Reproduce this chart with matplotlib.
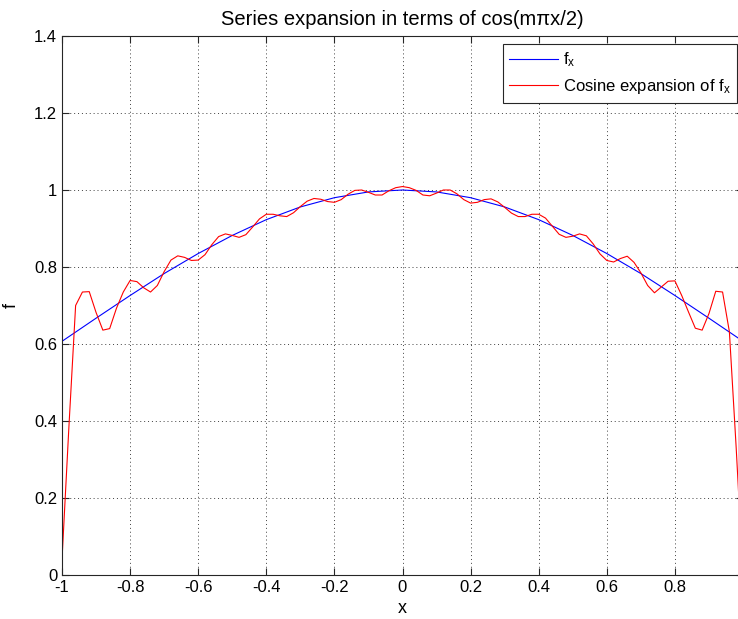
import numpy as np
import matplotlib.pyplot as plt
from matplotlib.ticker import FormatStrFormatter

plt.rcParams['font.family'] = ['Liberation Sans', 'DejaVu Sans']
plt.rcParams['axes.unicode_minus'] = False
plt.rcParams['mathtext.default'] = 'regular'

# exact function, sampled coarsely
x_f = [-1.0, -0.9, -0.8, -0.7, -0.6, -0.5, -0.4, -0.3, -0.2, -0.1, 0.0,
       0.1, 0.2, 0.3, 0.4, 0.5, 0.6, 0.7, 0.8, 0.9, 1.0]
f_x = [0.607, 0.667, 0.726, 0.783, 0.835, 0.882, 0.923, 0.956, 0.980, 0.995, 1.0,
       0.995, 0.980, 0.956, 0.923, 0.882, 0.835, 0.783, 0.726, 0.667, 0.607]

# truncated cosine series, one value per step of 0.02 from -1 to 1
cos_series = [
    0.040, 0.380, 0.700, 0.735, 0.736, 0.682, 0.636, 0.640, 0.693, 0.735,
    0.765, 0.762, 0.746, 0.735, 0.752, 0.788, 0.818, 0.829, 0.825, 0.817,
    0.818, 0.832, 0.858, 0.879, 0.886, 0.882, 0.877, 0.884, 0.904, 0.925,
    0.937, 0.937, 0.933, 0.931, 0.941, 0.957, 0.971, 0.978, 0.976, 0.970,
    0.968, 0.975, 0.989, 0.999, 1.000, 0.994, 0.987, 0.987, 0.998, 1.006,
    1.009,
    1.006, 0.999, 0.987, 0.985, 0.992, 1.000, 1.000, 0.990, 0.975, 0.966,
    0.968, 0.975, 0.977, 0.969, 0.955, 0.940, 0.931, 0.931, 0.937, 0.937,
    0.927, 0.906, 0.885, 0.877, 0.880, 0.886, 0.881, 0.860, 0.834, 0.817,
    0.813, 0.822, 0.828, 0.812, 0.785, 0.752, 0.733, 0.748, 0.763, 0.764,
    0.726, 0.683, 0.641, 0.636, 0.679, 0.737, 0.735, 0.632, 0.330, 0.000,
]
x_s = np.linspace(-1, 1, len(cos_series))

x_ticks = [-1, -0.8, -0.6, -0.4, -0.2, 0, 0.2, 0.4, 0.6, 0.8, 1]
x_labels = ['-1', '-0.8', '-0.6', '-0.4', '-0.2', '0', '0.2', '0.4', '0.6', '0.8', '']
y_ticks = [0, 0.2, 0.4, 0.6, 0.8, 1, 1.2, 1.4]

fig = plt.figure(figsize=(7.38, 6.19), dpi=100)
ax = fig.add_axes([62 / 738, 1 - 575 / 619, 681 / 738, 539 / 619])

ax.plot(x_f, f_x, color='blue', lw=0.8, label=r'$f_x$')
ax.plot(x_s, cos_series, color='red', lw=0.8, label=r'Cosine expansion of $f_x$')

ax.set_xlim(-1, 1)
ax.set_ylim(0, 1.4)
ax.set_xticks(x_ticks)
ax.set_xticklabels(x_labels)
ax.set_yticks(y_ticks)
ax.yaxis.set_major_formatter(FormatStrFormatter('%g'))
ax.tick_params(direction='in', length=5, width=0.8, labelsize=12,
               top=True, right=True, colors='#262626', labelcolor='black')
for sp in ax.spines.values():
    sp.set_color('#262626')
    sp.set_linewidth(0.8)

ax.grid(True, color='#404040', ls=(0, (1, 3)), lw=0.7)

ax.set_title('Series expansion in terms of cos(m\u03c0x/2)', fontsize=14.5, pad=8)
ax.set_xlabel('x', fontsize=13, labelpad=4)
ax.set_ylabel('f', fontsize=13, labelpad=10)

leg = ax.legend(loc='upper right', bbox_to_anchor=(737 / 738, 1 - 44 / 619),
                bbox_transform=fig.transFigure, fontsize=12, fancybox=False,
                framealpha=1, edgecolor='#262626', borderaxespad=0,
                handlelength=2.9, handletextpad=0.3, borderpad=0.4,
                labelspacing=0.45)
leg.get_frame().set_linewidth(0.8)

fig.savefig('out.png', dpi=100)
